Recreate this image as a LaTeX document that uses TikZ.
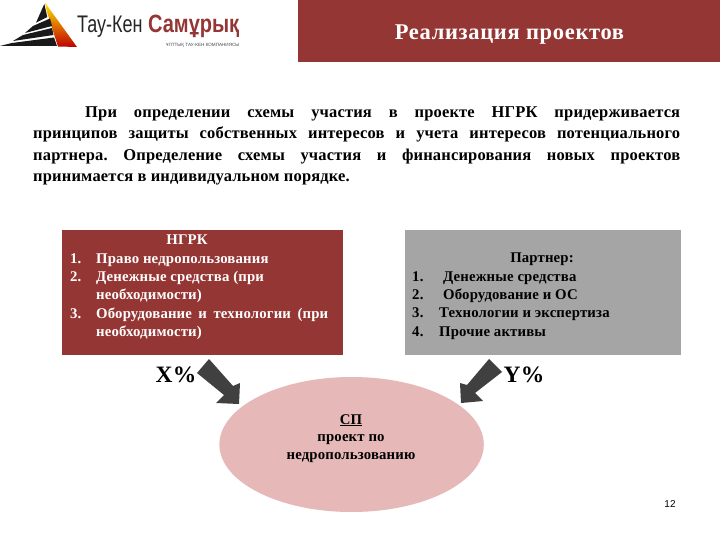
\documentclass[tikz,border=0pt]{standalone}
\usepackage{fontspec}
\setmainfont{Liberation Serif}
\newfontfamily\logofont{Liberation Sans}
\newfontfamily\spone[LetterSpace=1]{Liberation Serif}
\newfontfamily\spthree[LetterSpace=3]{Liberation Serif}
\definecolor{brickred}{HTML}{943634}
\definecolor{partnergray}{HTML}{A5A5A5}
\definecolor{pinkfill}{HTML}{E6B8B7}
\definecolor{arrowgray}{HTML}{404040}
\tikzset{
  para/.style={anchor=base west,inner sep=0pt,font=\spone\bfseries\fontsize{16.5}{18}\selectfont},
  item/.style={anchor=base west,inner sep=0pt,font=\spone\bfseries\fontsize{14.8}{15}\selectfont},
  ctr/.style={anchor=base,inner sep=0pt,font=\spone\bfseries\fontsize{14.8}{15}\selectfont},
  pct/.style={anchor=base,inner sep=0pt,font=\spone\bfseries\fontsize{23.5}{24}\selectfont},
  blockarrow/.style={fill=arrowgray,draw=none}
}
\newcommand{\jline}[2]{\hbox to #1pt{\frenchspacing\spaceskip=0.25em plus 1fil\relax #2}}
\begin{document}
\begin{tikzpicture}[x=1pt,y=-1pt]
\useasboundingbox (0,0) rectangle (720,540);
\fill[white] (0,0) rectangle (720,540);
% logo
\shade[top color=yellow!80!orange,bottom color=red!75!black] (45,2.7) -- (77,47) -- (58,46.5) -- (47,12) -- cycle;
\fill[black!90] (44.3,4) -- (47.3,17) -- (36,22.7) -- cycle;
\fill[black!90] (33,26) -- (50,18.5) -- (52,26) -- (25,33) -- cycle;
\fill[black!90] (23,35) -- (52,28) -- (53.5,35) -- (13,41) -- cycle;
\fill[black!90] (0,46) -- (12,43) -- (54,37.5) -- (57,46) -- cycle;
\node[anchor=base west,inner sep=0pt,font=\logofont\fontsize{24}{26}\selectfont,xscale=.75,text=black!85] (logoa) at (77,33) {Тау-Кен};
\node[anchor=base west,inner sep=0pt,font=\logofont\bfseries\fontsize{25}{26}\selectfont,xscale=.8,text=brickred] (logob) at (148,33) {Самұрық};
\node[anchor=base west,inner sep=0pt,font=\logofont\fontsize{4.6}{5}\selectfont,text=black!70] (logoc) at (166,47) {ҰЛТТЫҚ ТАУ-КЕН КОМПАНИЯСЫ};
% banner
\fill[brickred] (298,0) rectangle (720,62);
\node[anchor=base,inner sep=0pt,text=white,font=\spthree\bfseries\fontsize{22.5}{24}\selectfont] (title) at (509.5,40) {Реализация проектов};
% paragraph
\node[para] (p1) at (85,118) {\jline{595}{При определении схемы участия в проекте НГРК придерживается}};
\node[para] (p2) at (33,139) {\jline{647}{принципов защиты собственных интересов и учета интересов потенциального}};
\node[para] (p3) at (33,161) {\jline{647}{партнера. Определение схемы участия и финансирования новых проектов}};
\node[para] (p4) at (33,182) {принимается в индивидуальном порядке.};
% boxes
\fill[brickred] (62,230) rectangle (343,355);
\fill[partnergray] (405,230) rectangle (681,355);
\node[ctr,text=white] (n0) at (187,244) {НГРК};
\begin{scope}[every node/.append style={text=white}]
\node[item] (n1a) at (70,263) {1.};
\node[item] (n1) at (96,263) {Право недропользования};
\node[item] (n2a) at (70,281) {2.};
\node[item] (n2) at (96,281) {Денежные средства (при};
\node[item] (n2b) at (96,299) {необходимости)};
\node[item] (n3a) at (70,318) {3.};
\node[item] (n3) at (96,318) {\jline{232}{Оборудование и технологии (при}};
\node[item] (n3b) at (96,336) {необходимости)};
\end{scope}
\node[ctr] (m0) at (542,262) {Партнер:};
\node[item] (m1a) at (412,281) {1.};
\node[item] (m1) at (443,281) {Денежные средства};
\node[item] (m2a) at (412,299) {2.};
\node[item] (m2) at (443,299) {Оборудование и ОС};
\node[item] (m3a) at (412,317) {3.};
\node[item] (m3) at (439,317) {Технологии и экспертиза};
\node[item] (m4a) at (412,336) {4.};
\node[item] (m4) at (439,336) {Прочие активы};
% ellipse
\fill[pinkfill] (351.6,444.5) ellipse [x radius=132.2,y radius=67.5];
\node[ctr] (s0) at (351,424) {\underline{СП}};
\node[ctr] (s1) at (351,441) {проект по};
\node[ctr] (s2) at (351,459) {недропользованию};
% arrows
\fill[blockarrow] (197,373) -- (209,359) -- (233,386) -- (240,383) -- (239,404) -- (216,403) -- (224,395) -- cycle;
\fill[blockarrow] (489,359) -- (502,372) -- (475,393) -- (483,401) -- (461,403) -- (460,383) -- (467,385) -- cycle;
\node[pct] (x) at (176,382) {X\%};
\node[pct] (y) at (524,382) {Y\%};
\node[anchor=base,inner sep=0pt,font=\logofont\fontsize{10}{12}\selectfont] (pg) at (670,507) {12};
\end{tikzpicture}
\end{document}
